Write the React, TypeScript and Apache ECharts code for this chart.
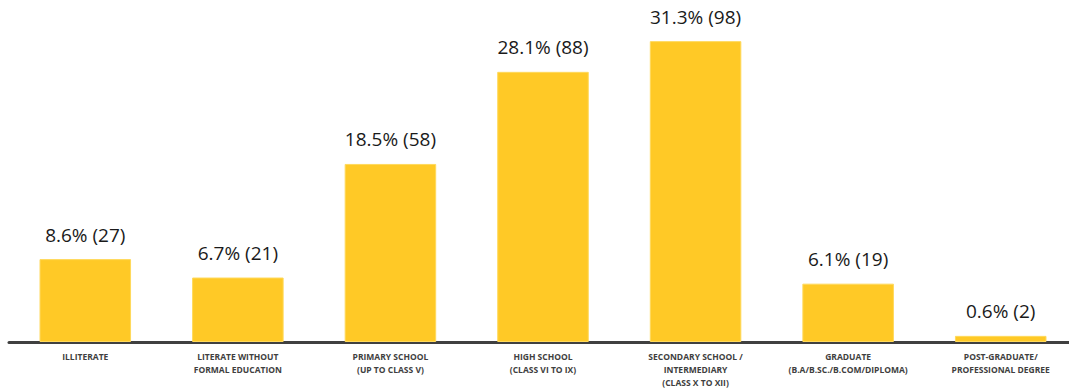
import React, { useEffect, useRef } from "react";
import * as echarts from "echarts";

const categories = [
  "ILLITERATE",
  "LITERATE WITHOUT\nFORMAL EDUCATION",
  "PRIMARY SCHOOL\n(UP TO CLASS V)",
  "HIGH SCHOOL\n(CLASS VI TO IX)",
  "SECONDARY SCHOOL /\nINTERMEDIARY\n(CLASS X TO XII)",
  "GRADUATE\n(B.A/B.SC./B.COM/DIPLOMA)",
  "POST-GRADUATE/\nPROFESSIONAL DEGREE",
];
const counts = [27, 21, 58, 88, 98, 19, 2];
const percents = ["8.6%", "6.7%", "18.5%", "28.1%", "31.3%", "6.1%", "0.6%"];

export default function App() {
  const ref = useRef<HTMLDivElement>(null);
  useEffect(() => {
    if (!ref.current) return;
    const chart = echarts.init(ref.current, undefined, { renderer: "svg" });
    chart.setOption({
      animation: false,
      grid: { left: 9, top: 35, width: 1068, height: 307 },
      xAxis: {
        type: "category",
        data: categories,
        axisLine: { lineStyle: { color: "#404040", width: 3 } },
        axisTick: { show: false },
        axisLabel: {
          interval: 0,
          margin: 8,
          fontFamily: "Open Sans",
          fontWeight: "bold",
          fontSize: 8.5,
          lineHeight: 13,
          color: "#404040",
        },
      },
      yAxis: {
        type: "value",
        min: 0,
        max: 100,
        show: false,
        splitLine: { show: false },
      },
      series: [
        {
          type: "bar",
          data: counts,
          barCategoryGap: "40%",
          itemStyle: { color: "#FFC926", borderColor: "#FFD95C", borderWidth: 1 },
          label: {
            show: true,
            position: "top",
            distance: 15,
            fontFamily: "Open Sans",
            fontSize: 19,
            color: "#1a1a1a",
            formatter: (p: any) => `${percents[p.dataIndex]} (${p.value})`,
          },
        },
      ],
    });
    return () => chart.dispose();
  }, []);
  return (
    <div style={{ position: "fixed", left: 0, top: 0, width: 1069, height: 390, overflow: "hidden", background: "#fff" }}>
      <div ref={ref} style={{ width: 1090, height: 390 }} />
    </div>
  );
}
